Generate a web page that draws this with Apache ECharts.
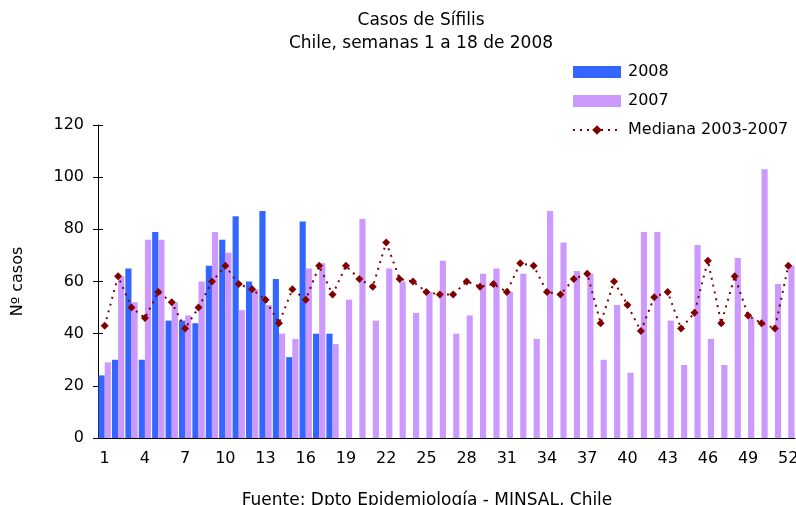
<!DOCTYPE html>
<html>
<head>
<meta charset="utf-8">
<script src="https://cdn.jsdelivr.net/npm/echarts@6/dist/echarts.min.js"></script>
<style>
html,body{margin:0;padding:0;background:#fff;}
#c{width:796px;height:505px;}
</style>
</head>
<body>
<div id="c"></div>
<script>
var weeks = [];
for (var i = 1; i <= 52; i++) weeks.push(String(i));

var cases2008 = [24, 30, 65, 30, 79, 45, 45, 44, 66, 76, 85, 60, 87, 61, 31, 83, 40, 40];

var cases2007 = [29, 62, 52, 76, 76, 52, 47, 60, 79, 71, 49, 57, 51, 40, 38, 65, 67, 36, 53, 84,
                 45, 65, 60, 48, 56, 68, 40, 47, 63, 65, 56, 63, 38, 87, 75, 64, 63, 30, 51, 25,
                 79, 79, 45, 28, 74, 38, 28, 69, 46, 103, 59, 66];

var median0307 = [43, 62, 50, 46, 56, 52, 42, 50, 60, 66, 59, 57, 53, 44, 57, 53, 66, 55, 66, 61,
                  58, 75, 61, 60, 56, 55, 55, 60, 58, 59, 56, 67, 66, 56, 55, 61, 63, 44, 60, 51,
                  41, 54, 56, 42, 48, 68, 44, 62, 47, 44, 42, 66];

var yTicks = [0, 20, 40, 60, 80, 100, 120];

var font = 'DejaVu Sans';
var chart = echarts.init(document.getElementById('c'), null, {renderer: 'canvas'});

var yMin = yTicks[0], yMax = yTicks[yTicks.length - 1], yStep = yTicks[1] - yTicks[0];

chart.setOption({
  animation: false,
  backgroundColor: '#fff',
  title: [{
    text: 'Casos de Sífilis\nChile, semanas 1 a 18 de 2008',
    left: 416, top: 4, textAlign: 'center',
    textStyle: {fontFamily: font, fontSize: 17, fontWeight: 'normal', color: '#000', lineHeight: 23}
  }, {
    text: 'Fuente: Dpto Epidemiología - MINSAL, Chile',
    left: 422, top: 487, textAlign: 'center',
    textStyle: {fontFamily: font, fontSize: 17, fontWeight: 'normal', color: '#000'}
  }],
  legend: {
    orient: 'vertical',
    left: 572, top: 63,
    padding: 0,
    itemWidth: 48, itemHeight: 12,
    itemGap: 11,
    textStyle: {fontFamily: font, fontSize: 16, color: '#000', lineHeight: 18, padding: [0, 0, 0, 2]},
    data: [
      {name: '2008', icon: 'rect'},
      {name: '2007', icon: 'rect'},
      {name: 'Mediana 2003-2007'}
    ]
  },
  grid: {left: 98, right: 1, top: 125, bottom: 67, containLabel: false, outerBoundsMode: 'none'},
  xAxis: {
    type: 'category',
    data: weeks,
    boundaryGap: true,
    axisLine: {lineStyle: {color: '#000', width: 1}},
    axisTick: {interval: 0, length: 5, lineStyle: {color: '#333'}},
    axisLabel: {interval: 2, margin: 13, fontFamily: font, fontSize: 16, color: '#000'},
    splitLine: {show: false}
  },
  yAxis: [{
    type: 'value',
    min: yMin, max: yMax, interval: yStep,
    name: 'Nº casos',
    nameLocation: 'middle',
    nameGap: 72,
    nameRotate: 90,
    nameTextStyle: {fontFamily: font, fontSize: 16, color: '#000'},
    axisLine: {show: true, lineStyle: {color: '#000'}},
    axisTick: {show: true, length: 5, lineStyle: {color: '#000'}},
    axisLabel: {margin: 14, fontFamily: font, fontSize: 16, color: '#000'},
    splitLine: {show: false}
  }, {
    type: 'value',
    position: 'left',
    min: yMin, max: yMax, interval: yStep,
    axisLine: {show: false},
    axisTick: {show: true, inside: true, length: 5, lineStyle: {color: '#000'}},
    axisLabel: {show: false},
    splitLine: {show: false}
  }],
  series: [{
    name: '2008',
    type: 'bar',
    data: cases2008,
    barGap: '0%',
    barCategoryGap: '8%',
    itemStyle: {color: '#3366FF', borderRadius: 0}
  }, {
    name: '2007',
    type: 'bar',
    data: cases2007,
    barGap: '0%',
    barCategoryGap: '8%',
    itemStyle: {color: '#CC99FF', borderRadius: 0}
  }, {
    name: 'Mediana 2003-2007',
    type: 'line',
    data: median0307,
    z: 5,
    symbol: 'diamond',
    symbolSize: 8,
    itemStyle: {color: '#800000'},
    lineStyle: {color: '#800000', width: 2, type: [2, 5]}
  }]
});
</script>
</body>
</html>
